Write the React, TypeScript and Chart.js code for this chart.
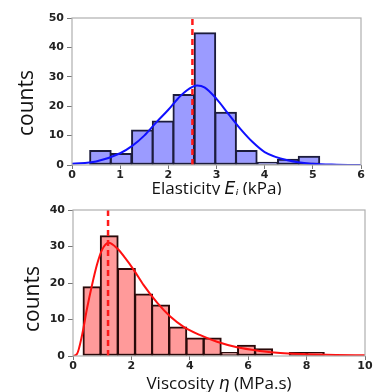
import { useEffect, useRef } from "react";
import { Chart, registerables } from "chart.js";
Chart.register(...registerables);

// ---- Elasticity histogram (top) ----
const elasticityBinCenters = [0.59, 1.02, 1.46, 1.89, 2.32, 2.76, 3.19, 3.62, 4.06, 4.49, 4.92];
const elasticityBinWidth = 0.433;
const elasticityCounts = [5, 4, 12, 15, 24, 45, 18, 5, 1, 2, 3];
const elasticityFitX = [0, 0.5, 1.0, 1.25, 1.5, 1.75, 2.0, 2.25, 2.5, 2.6, 2.75, 3.0, 3.25, 3.5, 3.75, 4.0, 4.5, 5.0, 5.5, 6.0];
const elasticityFitY = [0.4, 1.2, 4, 6.5, 10, 14.5, 18.8, 23.5, 26.6, 27, 26.4, 22.5, 17.3, 12.2, 7.8, 4.4, 1.5, 0.4, 0.1, 0];
const elasticityMean = 2.5;
const elasticityXTicks = [0, 6, 1];
const elasticityYTicks = [0, 50, 10];

// ---- Viscosity histogram (bottom) ----
const viscosityBinCenters = [0.65, 1.24, 1.83, 2.42, 3.0, 3.59, 4.18, 4.77, 5.36, 5.94, 6.53, 7.12, 7.71, 8.3];
const viscosityBinWidth = 0.588;
const viscosityCounts = [19, 33, 24, 17, 14, 8, 5, 5, 1, 3, 2, 0, 1, 1];
const viscosityFitX = [0, 0.14, 0.31, 0.48, 0.65, 0.82, 0.99, 1.22, 1.51, 1.79, 2.08, 2.42, 2.88, 3.33, 3.79, 4.36, 4.93, 5.62, 6.41, 7.1, 8.0, 9.0, 10.0];
const viscosityFitY = [0, 0.6, 5.7, 13, 19.4, 25, 29, 31, 29.5, 26.8, 23.6, 19.4, 14.6, 10.8, 8, 5.7, 3.9, 2.4, 1.4, 0.8, 0.5, 0.3, 0.2];
const viscosityMedian = 1.2;
const viscosityXTicks = [0, 10, 2];
const viscosityYTicks = [0, 40, 10];

type Seg = { text: string; font: string; dy?: number };

type Spec = {
  top: number;
  height: number;
  plot: { left: number; right: number; top: number; bottom: number };
  centers: number[];
  binWidth: number;
  counts: number[];
  fitX: number[];
  fitY: number[];
  vline: number;
  xTicks: number[];
  yTicks: number[];
  fill: string;
  edge: string;
  curve: string;
  yTitlePos: [number, number];
  xTitleY: number;
  xTitle: Seg[];
};

const W = 379;

function HistChart({ spec }: { spec: Spec }) {
  const ref = useRef<HTMLCanvasElement | null>(null);
  useEffect(() => {
    const canvas = ref.current;
    if (!canvas) return;
    const p = spec.plot;
    const barPx = ((p.right - p.left) / (spec.xTicks[1] - spec.xTicks[0])) * spec.binWidth;
    const framePlugin = {
      id: "frame",
      afterDraw(chart: any) {
        const ctx = chart.ctx;
        const a = chart.chartArea;
        ctx.save();
        ctx.strokeStyle = "#b0b0b0";
        ctx.lineWidth = 1.2;
        ctx.strokeRect(a.left, a.top, a.right - a.left, a.bottom - a.top);
        // y title
        ctx.fillStyle = "#111";
        ctx.font = "21px 'Open Sans'";
        ctx.textAlign = "center";
        ctx.textBaseline = "middle";
        ctx.translate(spec.yTitlePos[0], spec.yTitlePos[1]);
        ctx.rotate(-Math.PI / 2);
        ctx.fillText("counts", 0, 0);
        ctx.restore();
        // x title (mixed fonts)
        ctx.save();
        ctx.fillStyle = "#111";
        ctx.textBaseline = "alphabetic";
        ctx.textAlign = "left";
        let total = 0;
        for (const s of spec.xTitle) {
          ctx.font = s.font;
          total += ctx.measureText(s.text).width;
        }
        let x = (a.left + a.right) / 2 - total / 2;
        for (const s of spec.xTitle) {
          ctx.font = s.font;
          ctx.fillText(s.text, x, spec.xTitleY + (s.dy || 0));
          x += ctx.measureText(s.text).width;
        }
        ctx.restore();
      },
    };
    const tickFont = { family: "'DejaVu Sans'", size: 11, weight: "bold" as const };
    const chart = new Chart(canvas, {
      type: "bar",
      data: {
        datasets: [
          {
            type: "line",
            data: [
              { x: spec.vline, y: 0 },
              { x: spec.vline, y: spec.yTicks[1] },
            ],
            borderColor: "#ff1a1a",
            borderWidth: 2.5,
            borderDash: [6, 4],
            pointRadius: 0,
            order: 0,
          } as any,
          {
            type: "line",
            data: spec.fitX.map((x, i) => ({ x, y: spec.fitY[i] })),
            borderColor: spec.curve,
            borderWidth: 2,
            pointRadius: 0,
            cubicInterpolationMode: "monotone",
            order: 1,
          } as any,
          {
            type: "bar",
            data: spec.centers.map((x, i) => ({ x, y: spec.counts[i] })),
            backgroundColor: spec.fill,
            borderColor: spec.edge,
            borderWidth: 2,
            borderSkipped: false,
            barThickness: barPx + 1,
            maxBarThickness: 1000,
            grouped: false,
            order: 2,
          } as any,
        ],
      },
      options: {
        animation: false,
        responsive: false,
        maintainAspectRatio: false,
        layout: { padding: { left: 0, right: W - p.right, top: p.top, bottom: 0 } },
        plugins: { legend: { display: false }, tooltip: { enabled: false } },
        scales: {
          x: {
            type: "linear",
            min: spec.xTicks[0],
            max: spec.xTicks[1],
            offset: false,
            ticks: { stepSize: spec.xTicks[2], font: tickFont, color: "#222", padding: 0, maxRotation: 0 },
            grid: { drawOnChartArea: false, drawTicks: true, tickLength: 4, color: "#777", lineWidth: 1, offset: false },
            border: { display: false },
            afterFit: (s: any) => {
              s.height = spec.height - p.bottom;
            },
          },
          y: {
            min: spec.yTicks[0],
            max: spec.yTicks[1],
            ticks: { stepSize: spec.yTicks[2], font: tickFont, color: "#222", padding: 3 },
            grid: { drawOnChartArea: false, drawTicks: true, tickLength: 5, color: "#777", lineWidth: 1 },
            border: { display: false },
            afterFit: (s: any) => {
              s.width = p.left;
            },
          },
        },
      },
      plugins: [framePlugin],
    });
    return () => chart.destroy();
  }, [spec]);
  return (
    <canvas
      ref={ref}
      width={W}
      height={spec.height}
      style={{ position: "absolute", left: 0, top: spec.top, width: W, height: spec.height }}
    />
  );
}

const topSpec: Spec = {
  top: 0,
  height: 195,
  plot: { left: 72, right: 361, top: 18, bottom: 165 },
  centers: elasticityBinCenters,
  binWidth: elasticityBinWidth,
  counts: elasticityCounts,
  fitX: elasticityFitX,
  fitY: elasticityFitY,
  vline: elasticityMean,
  xTicks: elasticityXTicks,
  yTicks: elasticityYTicks,
  fill: "#9b9bff",
  edge: "#1c1c3c",
  curve: "#1010ff",
  yTitlePos: [27, 103],
  xTitleY: 194,
  xTitle: [
    { text: "Elasticity ", font: "500 17px 'Open Sans'" },
    { text: "E", font: "italic 17px 'DejaVu Sans'" },
    { text: "i", font: "italic 11px 'DejaVu Sans'", dy: 3 },
    { text: " (kPa)", font: "500 17px 'Open Sans'" },
  ],
};

const bottomSpec: Spec = {
  top: 195,
  height: 197,
  plot: { left: 73, right: 365, top: 15, bottom: 161 },
  centers: viscosityBinCenters,
  binWidth: viscosityBinWidth,
  counts: viscosityCounts,
  fitX: viscosityFitX,
  fitY: viscosityFitY,
  vline: viscosityMedian,
  xTicks: viscosityXTicks,
  yTicks: viscosityYTicks,
  fill: "#ff9a9a",
  edge: "#2a0a0a",
  curve: "#ff1010",
  yTitlePos: [33, 104],
  xTitleY: 194,
  xTitle: [
    { text: "Viscosity ", font: "500 17px 'Open Sans'" },
    { text: "η", font: "italic 17px 'DejaVu Sans'" },
    { text: " (MPa.s)", font: "500 17px 'Open Sans'" },
  ],
};

export default function App() {
  return (
    <div style={{ position: "absolute", left: 0, top: 0, width: W, height: 392, background: "#fff", overflow: "hidden" }}>
      <HistChart spec={topSpec} />
      <HistChart spec={bottomSpec} />
    </div>
  );
}
